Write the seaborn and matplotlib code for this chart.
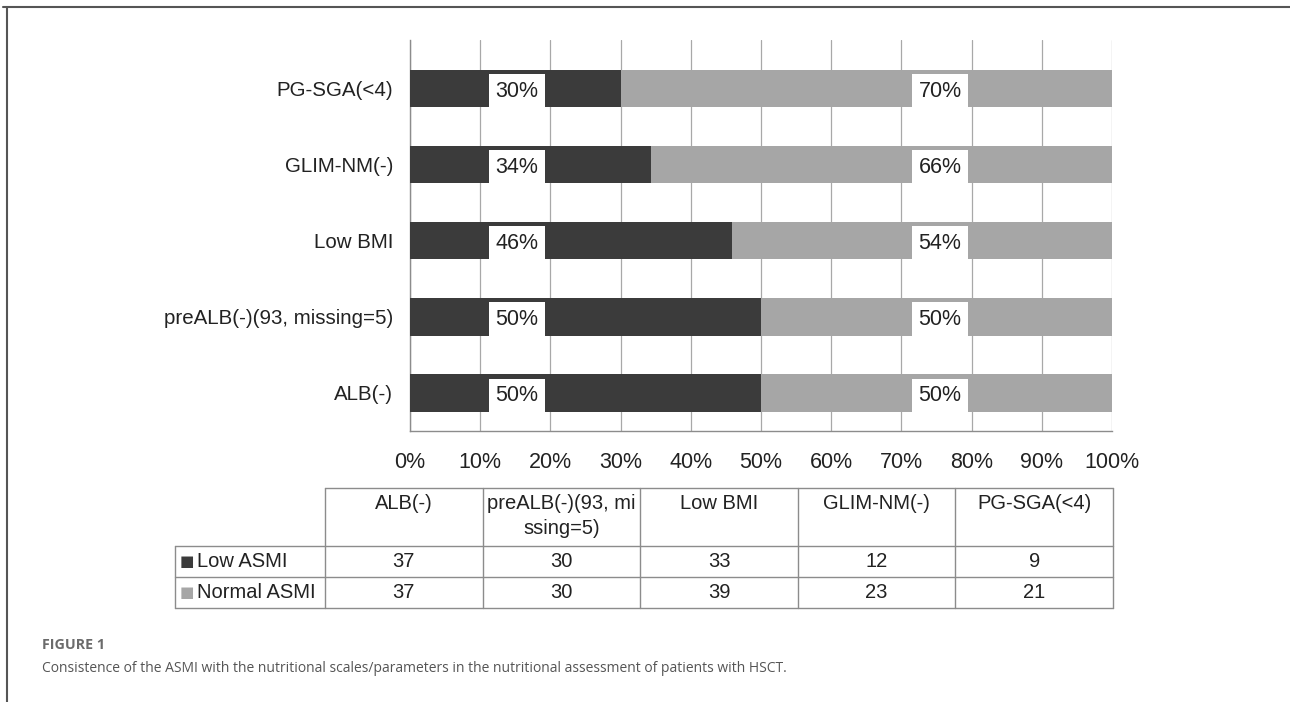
import matplotlib
matplotlib.use('Agg')
import matplotlib.pyplot as plt
from matplotlib.lines import Line2D
import pandas as pd
import seaborn as sns

# datos
categorias = ['PG-SGA(<4)', 'GLIM-NM(-)', 'Low BMI', 'preALB(-)(93, missing=5)', 'ALB(-)']
low_asmi = [9, 12, 33, 30, 37]
normal_asmi = [21, 23, 39, 30, 37]

# tabla de abajo (orden del libro de Excel)
cols_tabla = ['ALB(-)', 'preALB(-)(93, mi\nssing=5)', 'Low BMI', 'GLIM-NM(-)', 'PG-SGA(<4)']
tabla_low = [37, 30, 33, 12, 9]
tabla_normal = [37, 30, 39, 23, 21]
series = ['Low ASMI', 'Normal ASMI']

ticks_x = [0, 10, 20, 30, 40, 50, 60, 70, 80, 90, 100]

oscuro = '#3b3b3b'
claro = '#a6a6a6'
gris_linea = '#8c8c8c'
gris_grid = '#a8a8a8'

df = pd.DataFrame({'cat': categorias, 'low': low_asmi, 'normal': normal_asmi})
df['total'] = df['low'] + df['normal']
df['pct_low'] = df['low'] / df['total'] * 100
df['pct_total'] = 100.0

sns.set_style('white')
plt.rcParams['font.family'] = ['Liberation Sans', 'DejaVu Sans']

fig = plt.figure(figsize=(12.9, 7.02), dpi=100)
ax = fig.add_axes([410 / 1290, 1 - 431 / 702, 702 / 1290, 391 / 702])

# barras apiladas: primero el total (gris claro), luego la parte baja (oscuro)
sns.barplot(data=df, x='pct_total', y='cat', order=categorias, color=claro,
            orient='h', width=0.49, saturation=1, ax=ax, zorder=2, linewidth=0)
sns.barplot(data=df, x='pct_low', y='cat', order=categorias, color=oscuro,
            orient='h', width=0.49, saturation=1, ax=ax, zorder=3, linewidth=0)

ax.set_xlim(0, 100)
ax.set_ylim(4.5, -0.64)
ax.set_xticks(ticks_x)
ax.set_xticklabels([f'{t}%' for t in ticks_x])
ax.set_xlabel('')
ax.set_ylabel('')
ax.tick_params(axis='x', length=0, pad=15, labelsize=15.5, labelcolor='#222222')
ax.tick_params(axis='y', length=0, pad=12, labelsize=14.8, labelcolor='#222222')
for t in ticks_x:
    ax.axvline(t, color=gris_grid, lw=0.9, zorder=1)
for lado in ['top', 'right']:
    ax.spines[lado].set_visible(False)
for lado in ['left', 'bottom']:
    ax.spines[lado].set_color(gris_linea)
    ax.spines[lado].set_linewidth(1)

# etiquetas de porcentaje (Excel las pone en posicion fija)
pos_low = 15.2
pos_normal = 75.5
caja = dict(boxstyle='square,pad=0.3', fc='white', ec='none')
for i, fila in df.iterrows():
    ax.text(pos_low, i, f"{round(fila['pct_low']):.0f}%", ha='center', va='center_baseline',
            fontsize=15.5, color='#222222', bbox=caja, zorder=5)
    ax.text(pos_normal, i, f"{round(100 - fila['pct_low']):.0f}%", ha='center',
            va='center_baseline', fontsize=15.5, color='#222222', bbox=caja, zorder=5)

# tabla de datos y marco, en coordenadas de pixeles
tax = fig.add_axes([0, 0, 1, 1], zorder=-1)
tax.set_xlim(0, 1290)
tax.set_ylim(702, 0)
tax.axis('off')

x_izq, x_cab, x_der = 175, 325, 1113
y_top, y_cab, y_f1, y_bot = 488, 546, 577, 608
ancho = (x_der - x_cab) / len(cols_tabla)
xs = [x_cab + k * ancho for k in range(len(cols_tabla) + 1)]

lw_t = 1.0
tax.plot([x_cab, x_der], [y_top, y_top], color=gris_linea, lw=lw_t)
for yy in [y_cab, y_f1, y_bot]:
    tax.plot([x_izq, x_der], [yy, yy], color=gris_linea, lw=lw_t)
tax.plot([x_izq, x_izq], [y_cab, y_bot], color=gris_linea, lw=lw_t)
for xx in xs:
    tax.plot([xx, xx], [y_top, y_bot], color=gris_linea, lw=lw_t)

for k, nombre in enumerate(cols_tabla):
    tax.text((xs[k] + xs[k + 1]) / 2, y_top + 6, nombre, ha='center', va='top',
             fontsize=14.5, linespacing=1.4, color='#222222')
    tax.text((xs[k] + xs[k + 1]) / 2, (y_cab + y_f1) / 2, str(tabla_low[k]),
             ha='center', va='center', fontsize=14.5, color='#222222')
    tax.text((xs[k] + xs[k + 1]) / 2, (y_f1 + y_bot) / 2, str(tabla_normal[k]),
             ha='center', va='center', fontsize=14.5, color='#222222')

for nombre, color, y0, y1 in [(series[0], oscuro, y_cab, y_f1), (series[1], claro, y_f1, y_bot)]:
    tax.text(180, (y0 + y1) / 2, '■', color=color, ha='left', va='center',
             fontsize=11, family=['DejaVu Sans'])
    tax.text(197, (y0 + y1) / 2, nombre, ha='left', va='center', fontsize=14.5,
             color='#222222')

# marco de la figura
fig.add_artist(Line2D([3 / 1290, 1], [1 - 7 / 702, 1 - 7 / 702], color='#555555', lw=1.5))
fig.add_artist(Line2D([7 / 1290, 7 / 1290], [0, 1 - 7 / 702], color='#555555', lw=1.5))

# pie de figura
tax.text(42, 645, 'FIGURE 1', fontsize=10.3, fontweight='bold', color='#6b6b6b',
         va='center', family=['Open Sans', 'DejaVu Sans'])
tax.text(42, 668, 'Consistence of the ASMI with the nutritional scales/parameters in the '
         'nutritional assessment of patients with HSCT.', fontsize=10, color='#555555',
         va='center', family=['Open Sans', 'DejaVu Sans'])

plt.savefig('out.png', dpi=100)
